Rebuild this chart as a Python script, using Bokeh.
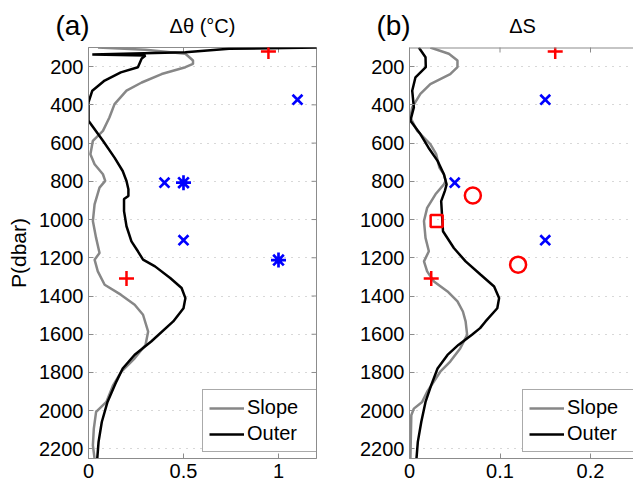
import math
from bokeh.plotting import figure
from bokeh.models import Range1d, LinearAxis, FixedTicker, Grid, Legend, LegendItem, Span
from bokeh.layouts import row, column
from bokeh.core.properties import value
from bokeh.embed import file_html
from bokeh.resources import INLINE

# ---------------- data ----------------
y_ticks = [200, 400, 600, 800, 1000, 1200, 1400, 1600, 1800, 2000, 2200]
p_top, p_bottom = 100, 2250

# Panel (a): delta theta
a_outer_p = [100, 107, 125, 137, 142, 158, 203, 230, 273, 326, 387, 483, 588, 676, 746, 798, 842, 877,
             893, 956, 1035, 1114, 1166, 1210, 1245, 1306, 1358, 1411, 1464, 1533, 1638, 1707, 1779,
             1849, 1954, 2059, 2163, 2251]
a_outer_x = [1.25, 0.74, 0.51, 0.02, 0.30, 0.28, 0.26, 0.17, 0.085, 0.02, 0.0, 0.0, 0.076, 0.137, 0.18,
             0.20, 0.21, 0.21, 0.187, 0.187, 0.20, 0.226, 0.26, 0.287, 0.35, 0.43, 0.49, 0.51, 0.50,
             0.446, 0.33, 0.243, 0.18, 0.146, 0.10, 0.07, 0.053, 0.046]
a_slope_p = [100, 112, 133, 168, 186, 203, 239, 283, 326, 396, 466, 536, 588, 658, 711, 763, 798, 833,
             921, 1008, 1096, 1175, 1210, 1271, 1341, 1393, 1446, 1498, 1586, 1656, 1726, 1796, 1866,
             1954, 2006, 2094, 2181, 2251]
a_slope_x = [0.05, 0.30, 0.51, 0.55, 0.55, 0.51, 0.385, 0.28, 0.20, 0.137, 0.11, 0.076, 0.023, 0.01,
             0.032, 0.076, 0.088, 0.058, 0.032, 0.023, 0.04, 0.058, 0.032, 0.049, 0.085, 0.17, 0.243,
             0.287, 0.314, 0.30, 0.243, 0.173, 0.13, 0.094, 0.04, 0.028, 0.023, 0.032]
a_plus_x, a_plus_p = [0.947, 0.20], [121, 1309]
a_x_x, a_x_p = [1.10, 0.40, 0.50], [373, 807, 1108]
a_star_x, a_star_p = [0.50, 1.0], [807, 1212]

# Panel (b): delta S
b_outer_p = [100, 151, 203, 256, 326, 413, 483, 553, 624, 693, 763, 816, 851, 904, 1061, 1149, 1219,
             1289, 1350, 1411, 1464, 1533, 1568, 1603, 1656, 1708, 1779, 1866, 1954, 2059, 2163, 2251]
b_outer_x = [0.0103, 0.0177, 0.018, 0.0066, 0.003, 0.0048, 0.001, 0.012, 0.021, 0.031, 0.038, 0.041,
             0.039, 0.035, 0.037, 0.049, 0.062, 0.0787, 0.0935, 0.099, 0.097, 0.084, 0.078, 0.069,
             0.054, 0.042, 0.031, 0.024, 0.0177, 0.013, 0.0092, 0.0077]
b_slope_p = [100, 133, 168, 203, 239, 291, 343, 413, 466, 536, 606, 658, 728, 763, 798, 816, 868, 939,
             1008, 1096, 1166, 1219, 1271, 1324, 1376, 1428, 1481, 1533, 1603, 1674, 1743, 1796, 1901,
             1954, 1989, 2024, 2251]
b_slope_x = [0.023, 0.0435, 0.053, 0.053, 0.045, 0.023, 0.012, 0.003, 0.001, 0.0085, 0.023, 0.0295,
             0.033, 0.038, 0.040, 0.038, 0.0287, 0.0195, 0.016, 0.0177, 0.0214, 0.016, 0.0195, 0.027,
             0.042, 0.053, 0.059, 0.062, 0.0637, 0.056, 0.045, 0.034, 0.0195, 0.014, 0.0048, 0.002, 0.001]
b_plus_x, b_plus_p = [0.161, 0.024], [121, 1309]
b_x_x, b_x_p = [0.15, 0.05, 0.15], [373, 807, 1108]
b_circ_x, b_circ_p = [0.07, 0.12], [874, 1236]
b_sq_x, b_sq_p = [0.03], [1007]

a_xmax = 1.2
a_xticks = [0, 0.5, 1]
a_xlabels = {0: "0", 0.5: "0.5", 1: "1"}
b_xmax = 0.2475
b_xticks = [0, 0.1, 0.2]
b_xlabels = {0: "0", 0.1: "0.1", 0.2: "0.2"}

# ---------------- styling ----------------
FONT = "Liberation Sans"
AXC = "#8c8c8c"
GRAY = "#878787"


def style_axis(ax):
    ax.axis_line_color = AXC
    ax.major_tick_line_color = AXC
    ax.major_tick_in = 5
    ax.major_tick_out = 0
    ax.minor_tick_line_color = None
    ax.major_label_text_font = FONT
    ax.major_label_text_font_size = "20px"
    ax.major_label_text_color = "black"
    ax.major_label_standoff = 5


def make_panel(xmax, xticks, xlabels, frame_w, border_l, border_r, boxed, ylabel):
    p = figure(frame_width=frame_w, frame_height=411,
               x_range=Range1d(0, xmax), y_range=Range1d(p_bottom, p_top),
               x_axis_type=None, y_axis_type=None,
               output_backend="svg", toolbar_location=None,
               min_border_left=border_l, min_border_right=border_r,
               min_border_top=1, min_border_bottom=5)
    p.outline_line_color = AXC if boxed else None
    p.background_fill_color = "white"
    p.border_fill_color = "white"
    xt = FixedTicker(ticks=xticks)
    yt = FixedTicker(ticks=y_ticks)

    bx = LinearAxis(ticker=xt, major_label_overrides=xlabels)
    style_axis(bx)
    p.add_layout(bx, "below")
    ly = LinearAxis(ticker=yt)
    style_axis(ly)
    if ylabel:
        ly.axis_label = ylabel
        ly.axis_label_text_font = FONT
        ly.axis_label_text_font_size = "21px"
        ly.axis_label_text_font_style = "normal"
        ly.axis_label_text_color = "black"
        ly.axis_label_standoff = 6
    p.add_layout(ly, "left")
    if not boxed:
        p.add_layout(Span(location=p_top, dimension="width", line_color=AXC, line_width=2))

    p.add_layout(Grid(dimension=1, ticker=yt, grid_line_color="#b0b0b0",
                      grid_line_dash="1 6", grid_line_width=1))
    # inward tick marks on the top edge (half of each dash is clipped by the frame)
    p.scatter(xticks, [p_top] * len(xticks), marker="dash", angle=math.pi / 2, size=10,
              line_color=AXC, line_width=1)
    if boxed:
        p.scatter([xmax] * len(y_ticks), y_ticks, marker="dash", size=10,
                  line_color=AXC, line_width=1)
    return p


def add_legend(p, r_slope, r_outer, loc, lw):
    leg = Legend(items=[LegendItem(label="Slope", renderers=[r_slope]),
                        LegendItem(label="Outer", renderers=[r_outer])],
                 location=loc, orientation="vertical")
    leg.label_text_font = FONT
    leg.label_text_font_size = "20px"
    leg.label_text_color = "black"
    leg.label_height = 22
    leg.glyph_height = 22
    leg.glyph_width = 35
    leg.label_width = lw
    leg.label_standoff = 3
    leg.spacing = 3
    leg.padding = 6
    leg.margin = 0
    leg.border_line_color = "#555555"
    leg.border_line_width = 1
    leg.background_fill_color = "white"
    leg.background_fill_alpha = 1
    p.add_layout(leg, "center")


# ---------------- header with panel tags and titles ----------------
hdr = figure(width=633, height=46, x_range=Range1d(0, 633), y_range=Range1d(46, 0),
             x_axis_type=None, y_axis_type=None, output_backend="svg", toolbar_location=None,
             min_border=0)
hdr.outline_line_color = None
hdr.grid.visible = False
hdr.text(x=[72, 393], y=[25, 25], text=["(a)", "(b)"], text_font=value(FONT),
         text_font_size="28px", text_align="center", text_baseline="middle", text_color="black")
hdr.text(x=[202, 522], y=[25, 25], text=["\u0394\u03b8 (\u00b0C)", "\u0394S"], text_font=value(FONT),
         text_font_size="20px", text_align="center", text_baseline="middle", text_color="black")

# ---------------- panel (a) ----------------
pa = make_panel(a_xmax, a_xticks, a_xlabels, 228, 88, 10, True, "P(dbar)")
ra_s = pa.line(a_slope_x, a_slope_p, line_color=GRAY, line_width=2.5)
ra_o = pa.line(a_outer_x, a_outer_p, line_color="black", line_width=2.5)
pa.scatter(a_plus_x, a_plus_p, marker="cross", size=15, line_color="red", line_width=2.5)
pa.scatter(a_x_x, a_x_p, marker="x", size=14, line_color="blue", line_width=2.7)
pa.scatter(a_star_x, a_star_p, marker="asterisk", size=15, line_color="blue", line_width=2.7)
add_legend(pa, ra_s, ra_o, (114, 6), 64)

# ---------------- panel (b) ----------------
pb = make_panel(b_xmax, b_xticks, b_xlabels, 224, 83, 0, False, None)
rb_s = pb.line(b_slope_x, b_slope_p, line_color=GRAY, line_width=2.5)
rb_o = pb.line(b_outer_x, b_outer_p, line_color="black", line_width=2.5)
pb.scatter(b_plus_x, b_plus_p, marker="cross", size=15, line_color="red", line_width=2.5)
pb.scatter(b_x_x, b_x_p, marker="x", size=14, line_color="blue", line_width=2.7)
pb.scatter(b_circ_x, b_circ_p, marker="circle", size=16, line_color="red", fill_color=None,
           line_width=2.5)
pb.scatter(b_sq_x, b_sq_p, marker="square", size=12, line_color="red", fill_color=None,
           line_width=2.5)
add_legend(pb, rb_s, rb_o, (113, 6), 61)

layout = column(hdr, row(pa, pb))
open("out.html", "w").write(file_html(layout, INLINE))
